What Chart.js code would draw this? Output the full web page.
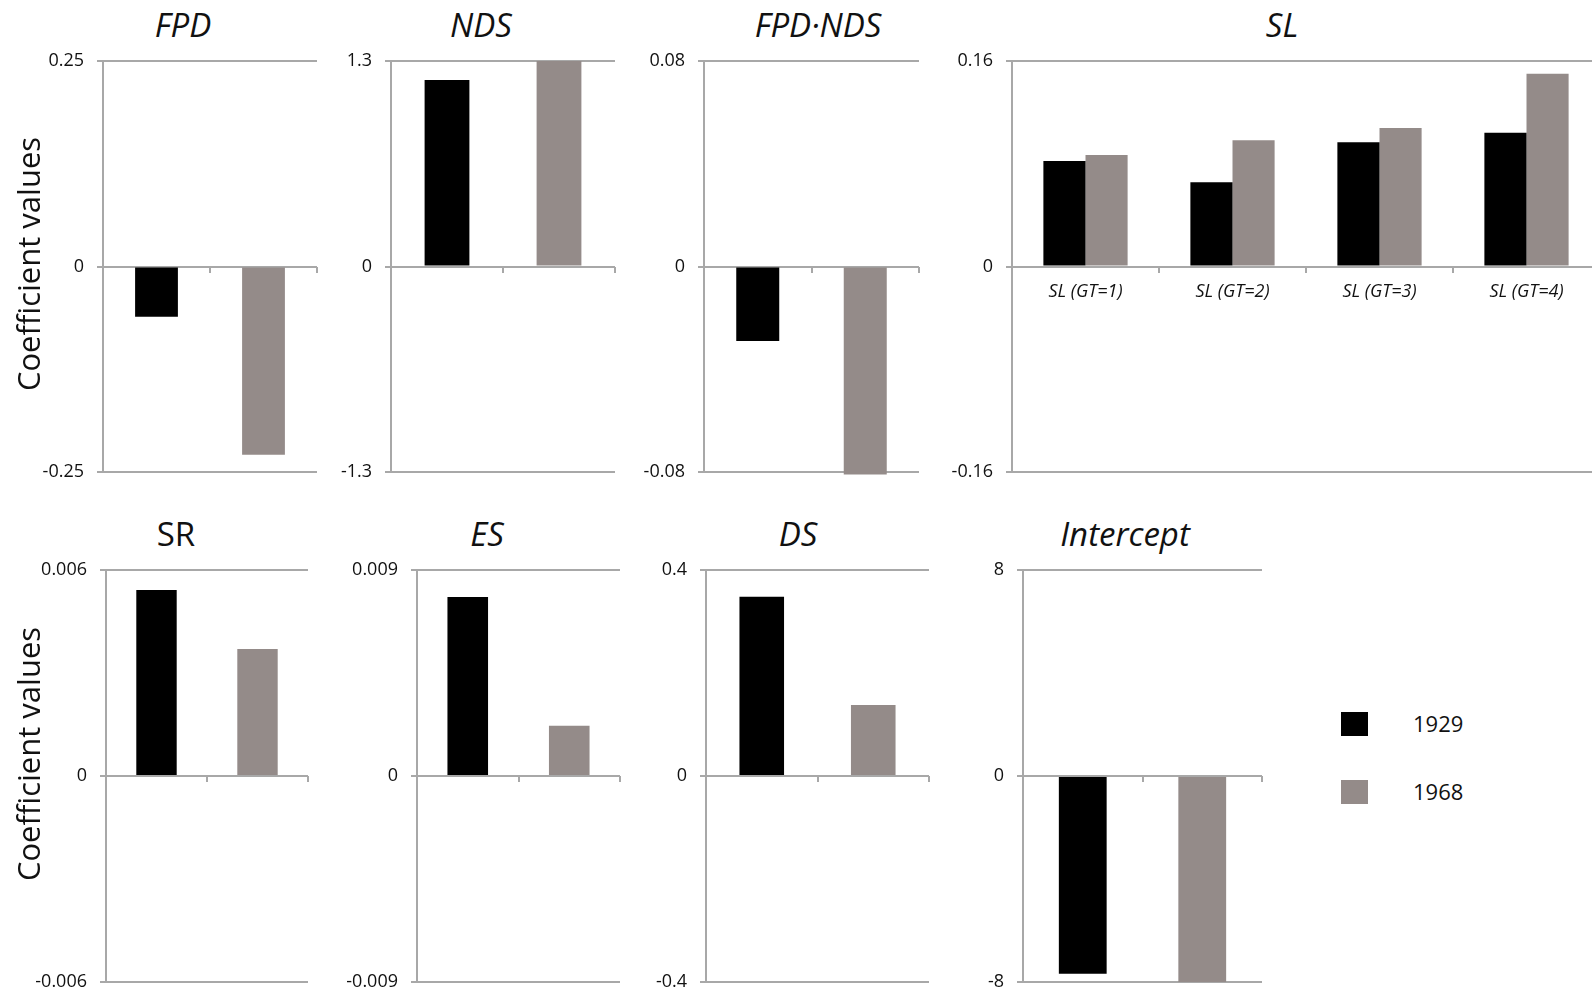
<!DOCTYPE html>
<html>
<head>
<meta charset="utf-8">
<script src="https://cdn.jsdelivr.net/npm/chart.js@4.4.1/dist/chart.umd.min.js"></script>
<style>
    html, body { margin: 0; padding: 0; background: #fff; }
    body { width: 1592px; height: 993px; position: relative; overflow: hidden; font-family: 'Open Sans', sans-serif; color: #111; }
    canvas { position: absolute; }
    .title { position: absolute; font-size: 33px; line-height: 33px; font-style: italic; transform: translate(-50%, -50%); white-space: nowrap; }
    .title.upright { font-style: normal; }
    .ylabel { position: absolute; font-size: 31px; line-height: 31px; transform: translate(-50%, -50%) rotate(-90deg); white-space: nowrap; }
    .swatch { position: absolute; width: 27px; height: 24px; }
    .legend-text { position: absolute; font-size: 22px; line-height: 24px; white-space: nowrap; }
</style>
</head>
<body>
<script>
// Coefficient values
const years = ['1929', '1968'];
const yearColors = ['#000000', '#948b89'];

const fpdValues = [-0.061, -0.229];
const fpdTicks = ['-0.25', '0', '0.25'];

const ndsValues = [1.18, 1.30];
const ndsTicks = ['-1.3', '0', '1.3'];

const fpdNdsValues = [-0.029, -0.081];
const fpdNdsTicks = ['-0.08', '0', '0.08'];

const slCategories = ['SL (GT=1)', 'SL (GT=2)', 'SL (GT=3)', 'SL (GT=4)'];
const sl1929 = [0.0822, 0.0656, 0.0967, 0.1042];
const sl1968 = [0.0869, 0.0983, 0.1079, 0.1501];
const slTicks = ['-0.16', '0', '0.16'];

const srValues = [0.00542, 0.0037];
const srTicks = ['-0.006', '0', '0.006'];

const esValues = [0.00782, 0.00219];
const esTicks = ['-0.009', '0', '0.009'];

const dsValues = [0.348, 0.138];
const dsTicks = ['-0.4', '0', '0.4'];

const interceptValues = [-7.68, -8.0];
const interceptTicks = ['-8', '0', '8'];

const yAxisTitle = 'Coefficient values';

// layout
const AXIS_COLOR = '#a8a8a8';
const AXIS_W = 70, PAD_T = 14, PAD_B = 14, PAD_R = 4;
const rows = [
    { top: 61, bottom: 472, titleY: 24, labelY: 264 },
    { top: 570, bottom: 982, titleY: 533, labelY: 754 }
];

const panels = [
    { title: 'FPD', row: 0, x0: 103, x1: 317, titleX: 183, values: fpdValues, ticks: fpdTicks },
    { title: 'NDS', row: 0, x0: 391, x1: 615, titleX: 481, values: ndsValues, ticks: ndsTicks },
    { title: 'FPD·NDS', row: 0, x0: 704, x1: 919, titleX: 818, values: fpdNdsValues, ticks: fpdNdsTicks },
    { title: 'SL', row: 0, x0: 1012, x1: 1600, titleX: 1282, ticks: slTicks, grouped: true },
    { title: 'SR', row: 1, x0: 106, x1: 308, titleX: 176, values: srValues, ticks: srTicks, upright: true },
    { title: 'ES', row: 1, x0: 417, x1: 620, titleX: 487, values: esValues, ticks: esTicks },
    { title: 'DS', row: 1, x0: 706, x1: 929, titleX: 798, values: dsValues, ticks: dsTicks },
    { title: 'Intercept', row: 1, x0: 1023, x1: 1262, titleX: 1125, values: interceptValues, ticks: interceptTicks }
];

Chart.defaults.font.family = "'Open Sans', sans-serif";
Chart.defaults.color = '#111';

function yScale(ticks) {
    const vals = ticks.map(Number);
    return {
        min: vals[0],
        max: vals[vals.length - 1],
        afterBuildTicks: s => { s.ticks = vals.map(v => ({ value: v })); },
        afterFit: s => {
            s.width = AXIS_W;
            s.paddingTop = 0;
            s.paddingBottom = 0;
        },
        border: { color: AXIS_COLOR, width: 2 },
        grid: { color: AXIS_COLOR, lineWidth: 2, tickLength: 6 },
        ticks: { padding: 13, font: { size: 18 }, callback: (v, i) => ticks[i] }
    };
}

function xScale(showLabels) {
    return {
        position: { y: 0 },
        border: { display: false },
        grid: { drawOnChartArea: false, color: AXIS_COLOR, lineWidth: 2, tickLength: 6 },
        ticks: { display: showLabels, maxRotation: 0, autoSkip: false, padding: 9, font: { size: 18, style: 'italic' } },
        afterFit: s => { s.paddingLeft = 0; s.paddingRight = 0; }
    };
}

function addDiv(cls, text, left, top) {
    const d = document.createElement('div');
    d.className = cls;
    d.textContent = text;
    d.style.left = left + 'px';
    d.style.top = top + 'px';
    document.body.appendChild(d);
    return d;
}

panels.forEach(p => {
    const row = rows[p.row];
    const canvas = document.createElement('canvas');
    canvas.width = (p.x1 - p.x0) + AXIS_W + PAD_R;
    canvas.height = (row.bottom - row.top) + PAD_T + PAD_B;
    canvas.style.left = (p.x0 - AXIS_W) + 'px';
    canvas.style.top = (row.top - PAD_T) + 'px';
    document.body.appendChild(canvas);

    let data;
    if (p.grouped) {
        data = {
            labels: slCategories,
            datasets: [
                { label: years[0], data: sl1929, backgroundColor: yearColors[0], categoryPercentage: 0.573, barPercentage: 1 },
                { label: years[1], data: sl1968, backgroundColor: yearColors[1], categoryPercentage: 0.573, barPercentage: 1 }
            ]
        };
    } else {
        data = {
            labels: years,
            datasets: [
                { data: p.values, backgroundColor: yearColors, categoryPercentage: 0.4, barPercentage: 1, clip: false }
            ]
        };
    }

    new Chart(canvas.getContext('2d'), {
        type: 'bar',
        data: data,
        options: {
            responsive: false,
            animation: false,
            layout: { padding: { top: PAD_T, bottom: PAD_B, right: PAD_R, left: 0 } },
            plugins: { legend: { display: false }, tooltip: { enabled: false } },
            scales: {
                x: xScale(!!p.grouped),
                y: yScale(p.ticks)
            }
        }
    });

    const t = addDiv('title', p.title, p.titleX, row.titleY);
    if (p.upright) t.classList.add('upright');
});

rows.forEach(r => addDiv('ylabel', yAxisTitle, 28, r.labelY));

// legend
years.forEach((yr, i) => {
    const top = 712 + i * 68;
    const sw = addDiv('swatch', '', 1341, top);
    sw.style.background = yearColors[i];
    addDiv('legend-text', yr, 1413, top - 1);
});
</script>
</body>
</html>
